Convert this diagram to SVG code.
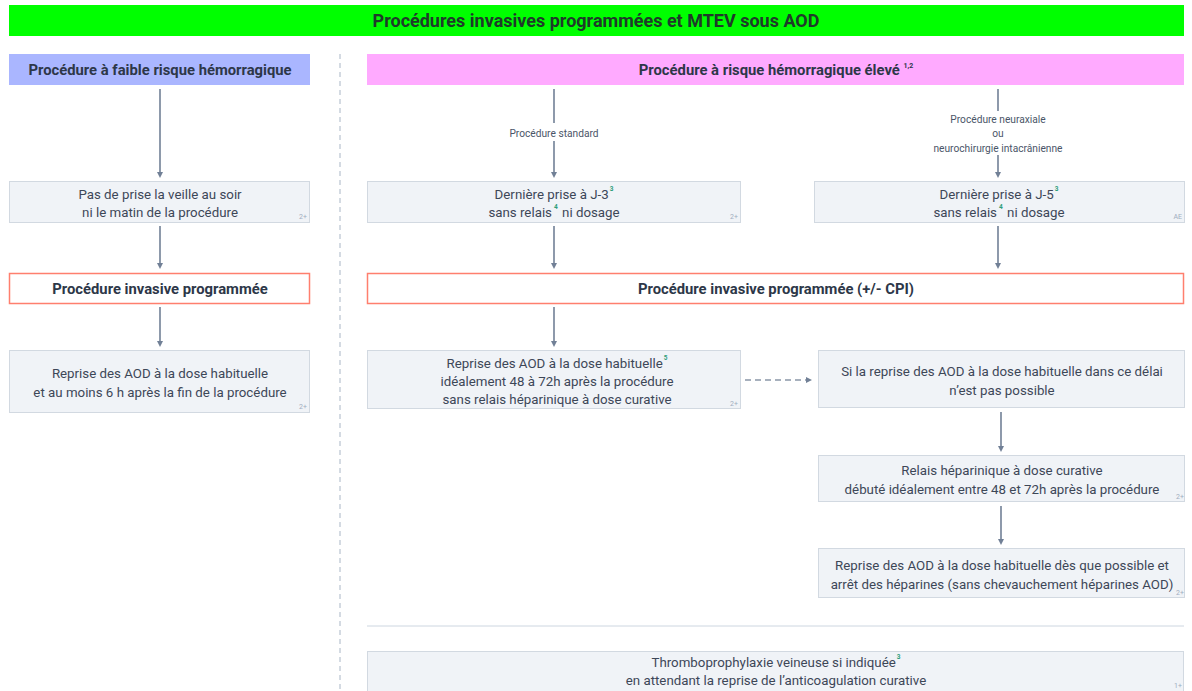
<svg xmlns="http://www.w3.org/2000/svg" width="1192" height="691" viewBox="0 0 1192 691">
<style>
text{font-family:Roboto,"Liberation Sans",sans-serif;}
.t{font-size:13.3px;fill:#3d4757;text-anchor:middle;}
.b{font-size:14.8px;font-weight:bold;fill:#2d3748;text-anchor:middle;}
.ttl{font-size:18px;font-weight:bold;fill:#1f3a2a;text-anchor:middle;}
.lbl{font-size:10.2px;fill:#4a5568;text-anchor:middle;}
.ev{font-size:7px;fill:#a0aec0;text-anchor:end;}
.sup{font-size:6.5px;fill:#2f9e7a;font-weight:bold;}
.suph{font-size:7px;fill:#2d3748;font-weight:bold;}
.box{fill:#f0f3f7;stroke:#d2d9e1;stroke-width:1;}
.red{fill:#ffffff;stroke:#ff7f6e;stroke-width:1.5;}
.ln{stroke:#718096;stroke-width:1.6;fill:none;}
.dash{stroke:#8a97a8;stroke-width:1.6;fill:none;stroke-dasharray:6 4;}
</style>
<defs>
<marker id="ah" markerWidth="8" markerHeight="8" refX="4" refY="4" orient="auto" markerUnits="userSpaceOnUse">
<path d="M0,1 L6,4 L0,7 z" fill="#718096"/>
</marker>
</defs>
<rect width="1192" height="691" fill="#ffffff"/>

<g id="title">
<rect x="9" y="5" width="1175" height="31" fill="#00ff00"/>
<text class="ttl" x="596" y="27">Procédures invasives programmées et MTEV sous AOD</text>
</g>

<line x1="340" y1="54" x2="340" y2="691" stroke="#a9b6c6" stroke-width="1" stroke-dasharray="5 4"/>

<g id="header-low">
<rect x="9" y="54" width="301" height="31" fill="#aab6ff"/>
<text class="b" x="160" y="75">Procédure à faible risque hémorragique</text>
</g>

<g id="header-high">
<rect x="367" y="54" width="817" height="31" fill="#ffaaff"/>
<text class="b" x="776" y="75">Procédure à risque hémorragique élevé <tspan class="suph" dy="-7">1,2</tspan></text>
</g>

<g id="connectors">
<line class="ln" x1="160" y1="89" x2="160" y2="176" marker-end="url(#ah)"/>
<line class="ln" x1="160" y1="226" x2="160" y2="267" marker-end="url(#ah)"/>
<line class="ln" x1="160" y1="307" x2="160" y2="345" marker-end="url(#ah)"/>

<line class="ln" x1="554" y1="89" x2="554" y2="123"/>
<line class="ln" x1="554" y1="141" x2="554" y2="176" marker-end="url(#ah)"/>
<text class="lbl" x="554" y="136.5">Procédure standard</text>

<line class="ln" x1="998" y1="89" x2="998" y2="111"/>
<line class="ln" x1="998" y1="155" x2="998" y2="176" marker-end="url(#ah)"/>
<text class="lbl" x="998" y="122.5">Procédure neuraxiale</text>
<text class="lbl" x="998" y="137">ou</text>
<text class="lbl" x="998" y="151.5">neurochirurgie intacrânienne</text>

<line class="ln" x1="554" y1="226" x2="554" y2="267" marker-end="url(#ah)"/>
<line class="ln" x1="998" y1="226" x2="998" y2="267" marker-end="url(#ah)"/>
<line class="ln" x1="554" y1="307" x2="554" y2="345" marker-end="url(#ah)"/>
<line class="dash" x1="745" y1="380" x2="810" y2="380" marker-end="url(#ah)"/>
<line class="ln" x1="1001" y1="412" x2="1001" y2="450" marker-end="url(#ah)"/>
<line class="ln" x1="1001" y1="506" x2="1001" y2="543" marker-end="url(#ah)"/>
</g>

<g id="n-left1">
<rect class="box" x="9.5" y="181.5" width="300" height="41"/>
<text class="t" x="160" y="198.5">Pas de prise la veille au soir</text>
<text class="t" x="160" y="216.5">ni le matin de la procédure</text>
<text class="ev" x="307" y="219">2+</text>
</g>

<g id="n-left2">
<rect class="red" x="9.5" y="273.5" width="300" height="30"/>
<text class="b" x="160" y="294">Procédure invasive programmée</text>
</g>

<g id="n-left3">
<rect class="box" x="9.5" y="350.5" width="300" height="62"/>
<text class="t" x="160" y="377.5">Reprise des AOD à la dose habituelle</text>
<text class="t" x="160" y="396.5">et au moins 6 h après la fin de la procédure</text>
<text class="ev" x="307" y="409">2+</text>
</g>

<g id="n-j3">
<rect class="box" x="367.5" y="181.5" width="373" height="41"/>
<text class="t" x="554" y="198.5">Dernière prise à J-3<tspan class="sup" dx="1" dy="-8">3</tspan></text>
<text class="t" x="554" y="216.5">sans relais<tspan class="sup" dx="2" dy="-8">4</tspan><tspan dx="1" dy="8"> ni dosage</tspan></text>
<text class="ev" x="738" y="219">2+</text>
</g>

<g id="n-j5">
<rect class="box" x="814.5" y="181.5" width="370" height="41"/>
<text class="t" x="999" y="198.5">Dernière prise à J-5<tspan class="sup" dx="1" dy="-8">3</tspan></text>
<text class="t" x="999" y="216.5">sans relais<tspan class="sup" dx="2" dy="-8">4</tspan><tspan dx="1" dy="8"> ni dosage</tspan></text>
<text class="ev" x="1182" y="219">AE</text>
</g>

<g id="n-proc">
<rect class="red" x="367.5" y="273.5" width="816" height="30"/>
<text class="b" x="776" y="294">Procédure invasive programmée (+/- CPI)</text>
</g>

<g id="n-reprise">
<rect class="box" x="367.5" y="350.5" width="373" height="58"/>
<text class="t" x="557" y="367.5">Reprise des AOD à la dose habituelle<tspan class="sup" dx="1" dy="-8">5</tspan></text>
<text class="t" x="557" y="385.5">idéalement 48 à 72h après la procédure</text>
<text class="t" x="557" y="403.5">sans relais héparinique à dose curative</text>
<text class="ev" x="738" y="406">2+</text>
</g>

<g id="n-si">
<rect class="box" x="818.5" y="350.5" width="366" height="57"/>
<text class="t" x="1002" y="375.5">Si la reprise des AOD à la dose habituelle dans ce délai</text>
<text class="t" x="1002" y="394.5">n’est pas possible</text>
</g>

<g id="n-relais">
<rect class="box" x="818.5" y="455.5" width="366" height="46"/>
<text class="t" x="1002" y="474.5">Relais héparinique à dose curative</text>
<text class="t" x="1002" y="493.5">débuté idéalement entre 48 et 72h après la procédure</text>
<text class="ev" x="1184" y="499">2+</text>
</g>

<g id="n-reprise2">
<rect class="box" x="818.5" y="548.5" width="366" height="49"/>
<text class="t" x="1002" y="569.5">Reprise des AOD à la dose habituelle dès que possible et</text>
<text class="t" x="1002" y="588.5">arrêt des héparines (sans chevauchement héparines AOD)</text>
<text class="ev" x="1184" y="595">2+</text>
</g>

<line x1="367" y1="626" x2="1184" y2="626" stroke="#cdd6e0" stroke-width="1"/>

<g id="n-thrombo">
<rect class="box" x="367.5" y="651.5" width="816" height="40"/>
<text class="t" x="776" y="666.5">Thromboprophylaxie veineuse si indiquée<tspan class="sup" dx="1" dy="-8">3</tspan></text>
<text class="t" x="776" y="684.5">en attendant la reprise de l’anticoagulation curative</text>
<text class="ev" x="1182" y="688">1+</text>
</g>
</svg>
